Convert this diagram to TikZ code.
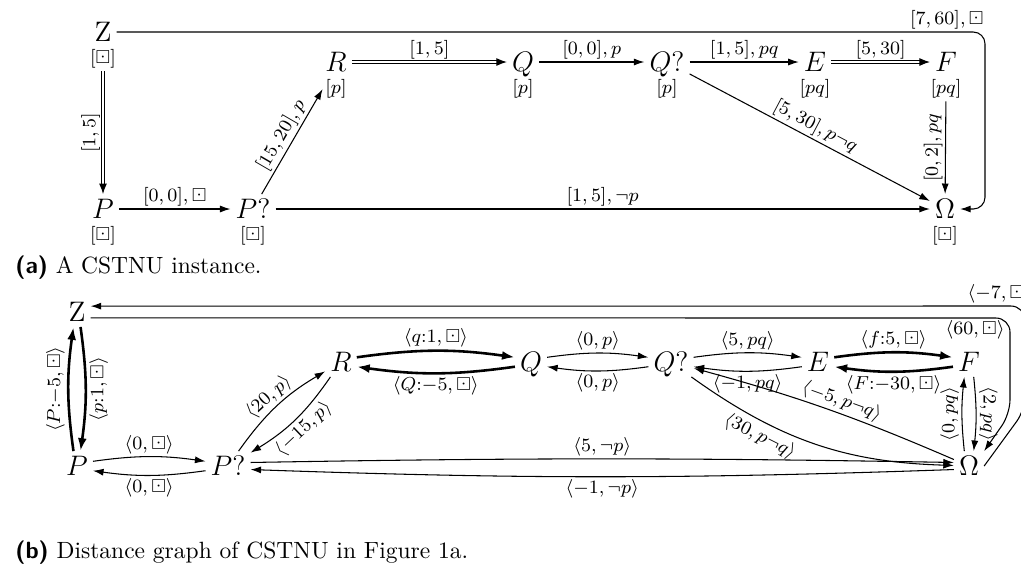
\documentclass[tikz,border=0pt]{standalone}
\usepackage{amssymb}
\usetikzlibrary{positioning,arrows.meta,calc}
\tikzset{
  vtx/.style={inner sep=2pt,font=\large,text height=8.3pt,text depth=0pt},
  guard/.style={inner sep=1pt,font=\footnotesize},
  lbl/.style={inner sep=1pt,font=\footnotesize},
  req/.style={-{Latex[length=4.5pt,width=3pt]},line width=0.45pt},
  cont/.style={-{Latex[length=4.5pt,width=3.4pt]},line width=0.45pt,double,double distance=0.7pt},
  ctg/.style={-{Latex[length=5.5pt,width=3.8pt]},line width=1.1pt}
}
\begin{document}
\begin{tikzpicture}[x=0.4255pt,y=0.4255pt]
  \useasboundingbox (0,0) rectangle (1021,-563);

  % (a) CSTNU instance
  \node[vtx] (za) at (103,-32) {$\mathrm{Z}$};
  \node[guard,below=0pt of za] (zal) {$[\boxdot]$};
  \node[vtx] (pa) at (103,-209) {$P$};
  \node[guard,below=0pt of pa] (pal) {$[\boxdot]$};
  \node[vtx] (pqa) at (253,-209) {$P?$};
  \node[guard,below=0pt of pqa] (pqal) {$[\boxdot]$};
  \node[vtx] (ra) at (336,-62) {$R$};
  \node[guard,below=0pt of ra] (ral) {$[p]$};
  \node[vtx] (qa) at (523,-62) {$Q$};
  \node[guard,below=0pt of qa] (qal) {$[p]$};
  \node[vtx] (qqa) at (667,-62) {$Q?$};
  \node[guard,below=0pt of qqa] (qqal) {$[p]$};
  \node[vtx] (ea) at (815,-62) {$E$};
  \node[guard,below=0pt of ea] (eal) {$[pq]$};
  \node[vtx] (fa) at (946,-62) {$F$};
  \node[guard,below=0pt of fa] (fal) {$[pq]$};
  \node[vtx] (oa) at (945,-209) {$\Omega$};
  \node[guard,below=0pt of oa] (oal) {$[\boxdot]$};
  \coordinate (aloop) at (985,-32);

  \draw[cont] (zal) -- node[lbl,rotate=90,anchor=south] {$[1, 5]$} (pa);
  \draw[req] (pa) -- node[lbl,above] {$[0, 0], \boxdot$} (pqa);
  \draw[req] (pqa) -- node[lbl,above,sloped] {$[15, 20], p$} (ral.west);
  \draw[cont] (ra) -- node[lbl,above] {$[1, 5]$} (qa);
  \draw[req] (qa) -- node[lbl,above] {$[0, 0], p$} (qqa);
  \draw[req] (qqa) -- node[lbl,above] {$[1, 5], pq$} (ea);
  \draw[cont] (ea) -- node[lbl,above] {$[5, 30]$} (fa);
  \draw[req] (fal) -- node[lbl,rotate=90,anchor=south] {$[0, 2], pq$} (oa);
  \draw[req] (qqa) -- node[lbl,above,sloped] {$[5, 30], p\neg q$} (oa);
  \draw[req] (pqa) -- node[lbl,above] {$[1, 5], \neg p$} (oa);
  \draw[req,rounded corners=5pt] (za) -- node[lbl,above,pos=0.956] {$[7, 60], \boxdot$} (aloop)
    -- (aloop |- oa) -- (oa);

  \node[anchor=base west,inner sep=0pt] (capa) at (15,-273) {\textsf{\textbf{(a)}} A CSTNU instance.};

  % (b) distance graph
  \node[vtx] (zb) at (77,-312) {$\mathrm{Z}$};
  \node[vtx] (pb) at (77,-466) {$P$};
  \node[vtx] (pqb) at (228,-466) {$P?$};
  \node[vtx] (rb) at (341,-362) {$R$};
  \node[vtx] (qb) at (531,-362) {$Q$};
  \node[vtx] (qqb) at (671,-362) {$Q?$};
  \node[vtx] (eb) at (818,-362) {$E$};
  \node[vtx] (fb) at (969,-362) {$F$};
  \node[vtx] (ob) at (969,-466) {$\Omega$};
  \coordinate (bin) at (1010,-318);
  \coordinate (bin2) at (1010,-414);
  \coordinate (bout) at (1025,-306);
  \coordinate (bout2) at (1025,-410);

  \draw[ctg] ([xshift=-1.5pt]pb.north) to[bend left=8]
    node[lbl,rotate=90,anchor=south] {$\langle P{:}{-5}, \boxdot\rangle$} ([xshift=-1.5pt]zb.south);
  \draw[ctg] ([xshift=1.5pt]zb.south) to[bend left=8]
    node[lbl,rotate=90,anchor=north] {$\langle p{:}1, \boxdot\rangle$} ([xshift=1.5pt]pb.north);
  \draw[req] ([yshift=2pt]pb.east) to[bend left=8] node[lbl,above] {$\langle 0, \boxdot\rangle$} ([yshift=2pt]pqb.west);
  \draw[req] ([yshift=-2pt]pqb.west) to[bend left=8] node[lbl,below] {$\langle 0, \boxdot\rangle$} ([yshift=-2pt]pb.east);
  \draw[req] (pqb) to[bend left=12] node[lbl,above,sloped] {$\langle 20, p\rangle$} (rb);
  \draw[req] (rb) to[bend left=12] node[lbl,below,sloped] {$\langle -15, p\rangle$} (pqb);
  \draw[ctg] ([yshift=2pt]rb.east) to[bend left=8] node[lbl,above] {$\langle q{:}1, \boxdot\rangle$} ([yshift=2pt]qb.west);
  \draw[ctg] ([yshift=-2pt]qb.west) to[bend left=8] node[lbl,below] {$\langle Q{:}{-5}, \boxdot\rangle$} ([yshift=-2pt]rb.east);
  \draw[req] ([yshift=2pt]qb.east) to[bend left=8] node[lbl,above] {$\langle 0, p\rangle$} ([yshift=2pt]qqb.west);
  \draw[req] ([yshift=-2pt]qqb.west) to[bend left=8] node[lbl,below] {$\langle 0, p\rangle$} ([yshift=-2pt]qb.east);
  \draw[req] ([yshift=2pt]qqb.east) to[bend left=8] node[lbl,above] {$\langle 5, pq\rangle$} ([yshift=2pt]eb.west);
  \draw[req] ([yshift=-2pt]eb.west) to[bend left=8] node[lbl,below] {$\langle -1, pq\rangle$} ([yshift=-2pt]qqb.east);
  \draw[ctg] ([yshift=2pt]eb.east) to[bend left=8] node[lbl,above] {$\langle f{:}5, \boxdot\rangle$} ([yshift=2pt]fb.west);
  \draw[ctg] ([yshift=-2pt]fb.west) to[bend left=8] node[lbl,below] {$\langle F{:}{-30}, \boxdot\rangle$} ([yshift=-2pt]eb.east);
  \draw[req] ([xshift=-2pt]ob.north) to[bend left=6]
    node[lbl,rotate=90,anchor=south] {$\langle 0, pq\rangle$} ([xshift=-2pt]fb.south);
  \draw[req] ([xshift=2pt]fb.south) to[bend left=6]
    node[lbl,rotate=-90,anchor=south] {$\langle 2, pq\rangle$} ([xshift=2pt]ob.north);
  \draw[req] (qqb) to[bend right=17] node[lbl,below=1pt,sloped,pos=0.3] {$\langle 30, p\neg q\rangle$} (ob);
  \draw[req] (ob) to[bend right=4] node[lbl,above,sloped,pos=0.45] {$\langle -5, p\neg q\rangle$} (qqb);
  \draw[req] ([yshift=1.5pt]pqb.east) to[bend left=1] node[lbl,above] {$\langle 5, \neg p\rangle$} ([yshift=1.5pt]ob.west);
  \draw[req] ([yshift=-1.5pt]ob.west) to[bend left=2] node[lbl,below] {$\langle -1, \neg p\rangle$} ([yshift=-1.5pt]pqb.east);
  \draw[req,rounded corners=6pt] ([yshift=-2.5pt]zb.east) -- node[lbl,below,pos=0.962] {$\langle 60, \boxdot\rangle$} (bin)
    -- (bin2) -- (ob.north east);
  \draw[req,rounded corners=6pt] (ob.east) -- (bout2) -- (bout)
    -- node[lbl,above,pos=0.027] {$\langle -7, \boxdot\rangle$} ([yshift=2.5pt]zb.east);

  \node[anchor=base west,inner sep=0pt] (capb) at (15,-558) {\textsf{\textbf{(b)}} Distance graph of CSTNU in Figure 1a.};
\end{tikzpicture}
\end{document}
